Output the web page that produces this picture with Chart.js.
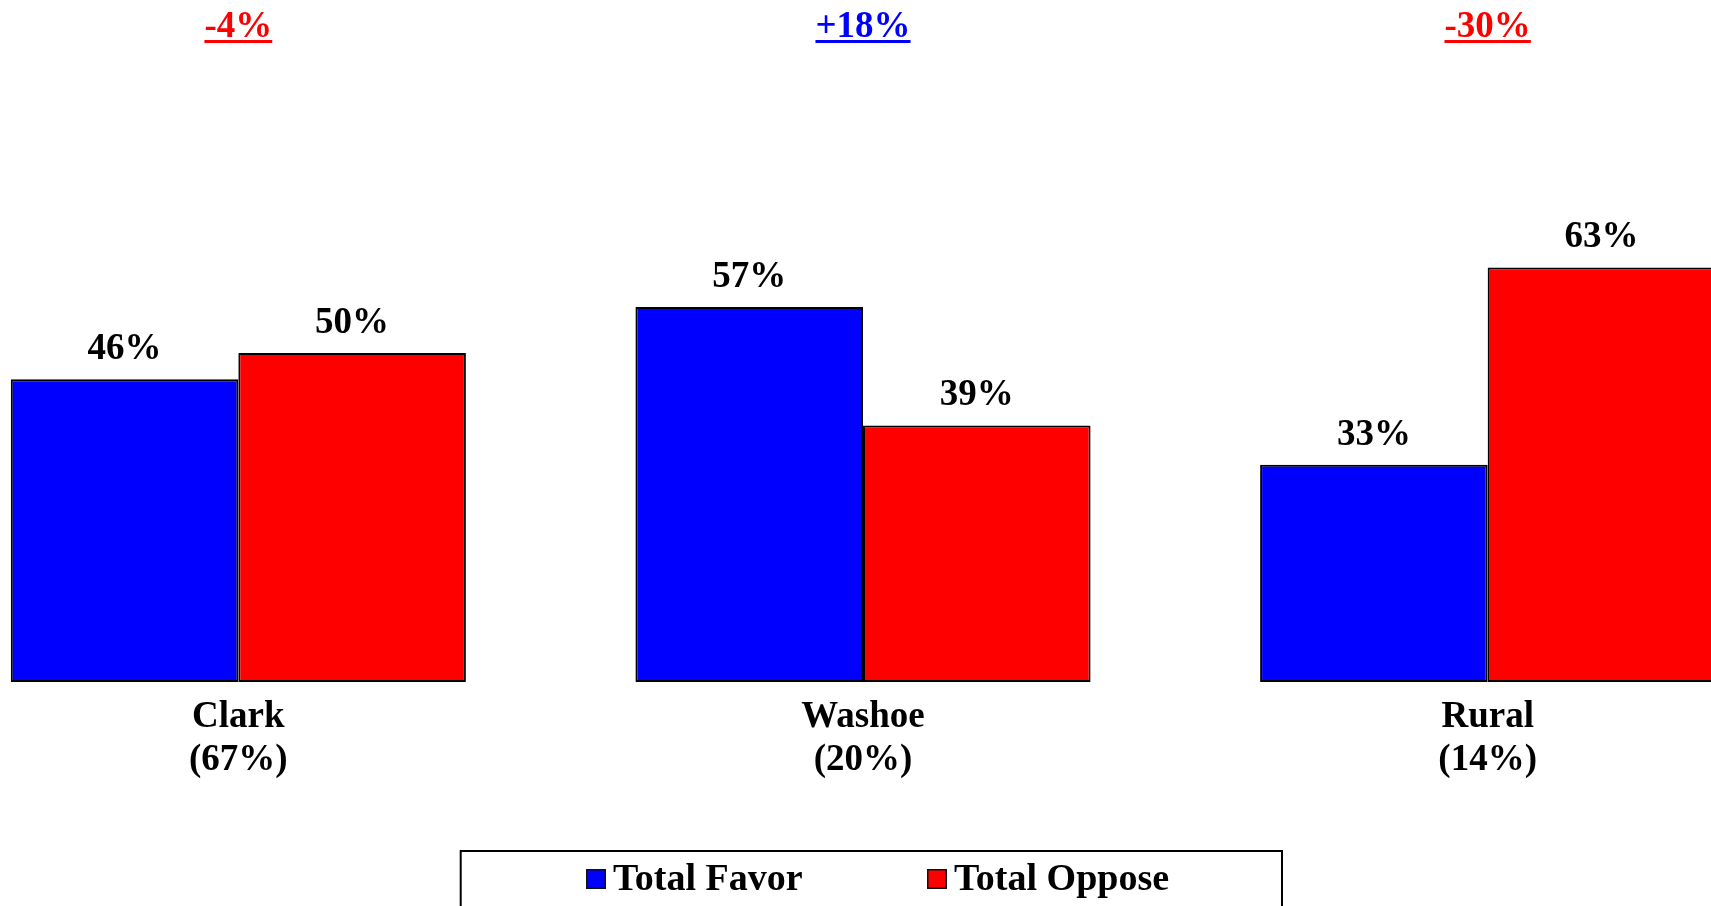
<!DOCTYPE html>
<html><head><meta charset="utf-8">
<script src="https://cdn.jsdelivr.net/npm/chart.js@4.4.0/dist/chart.umd.min.js"></script>
<style>
html,body{margin:0;padding:0;width:1711px;height:906px;overflow:hidden;background:#fff;}
#wrap{position:absolute;left:-74px;top:0;width:1874px;height:906px;}
canvas{display:block;}
</style></head><body>
<div id="wrap"><canvas id="c" width="1874" height="906"></canvas></div>
<script>
// ---- data ----
const categories = ['Clark', 'Washoe', 'Rural'];
const categoryShares = ['(67%)', '(20%)', '(14%)'];
const favorValues = [46, 57, 33];
const opposeValues = [50, 39, 63];
const seriesNames = ['Total Favor', 'Total Oppose'];
const seriesColors = ['#0000FF', '#FF0000'];

// ---- layout / style ----
const OFFSET_X = 74;              // canvas is shifted left by this many px
const FONT = 'bold 37px "Liberation Serif", "Times New Roman", serif';
const LEGEND_FONT = 'bold 38px "Liberation Serif", "Times New Roman", serif';

const labelPlugin = {
  id: 'labels',
  afterDatasetsDraw(chart) {
    const ctx = chart.ctx;
    const xs = chart.scales.x;
    ctx.save();
    ctx.font = FONT;
    ctx.textAlign = 'center';
    ctx.textBaseline = 'alphabetic';
    ctx.fillStyle = '#000';
    // value labels
    chart.data.datasets.forEach((ds, di) => {
      const meta = chart.getDatasetMeta(di);
      meta.data.forEach((bar, i) => {
        ctx.fillText(ds.data[i] + '%', bar.x, bar.y - 20);
      });
    });
    // category labels + difference labels
    categories.forEach((c, i) => {
      const x = xs.getPixelForValue(i);
      ctx.fillStyle = '#000';
      ctx.fillText(c, x, 727);
      ctx.fillText(categoryShares[i], x, 770);
      const d = favorValues[i] - opposeValues[i];
      const txt = (d > 0 ? '+' : '') + d + '%';
      const col = d > 0 ? seriesColors[0] : seriesColors[1];
      ctx.fillStyle = col;
      ctx.fillText(txt, x, 37);
      const w = ctx.measureText(txt).width;
      ctx.fillRect(x - w / 2, 40, w, 3);
    });
    // legend box
    const lx = 460.7 + OFFSET_X, rx = 1282 + OFFSET_X;
    ctx.strokeStyle = '#000';
    ctx.lineWidth = 2;
    ctx.strokeRect(lx, 851, rx - lx, 80);
    ctx.font = LEGEND_FONT;
    ctx.textAlign = 'left';
    const itemX = [586 + OFFSET_X, 927 + OFFSET_X];
    chart.data.datasets.forEach((ds, di) => {
      const x = itemX[di];
      ctx.fillStyle = ds.backgroundColor;
      ctx.fillRect(x, 869, 20, 20);
      ctx.lineWidth = 1.5;
      ctx.strokeStyle = '#111';
      ctx.strokeRect(x + 0.75, 869.75, 18.5, 18.5);
      ctx.fillStyle = '#000';
      ctx.fillText(ds.label, x + 27, 890);
    });
    ctx.restore();
  }
};

new Chart(document.getElementById('c'), {
  type: 'bar',
  data: {
    labels: categories,
    datasets: [
      { label: seriesNames[0], data: favorValues, backgroundColor: seriesColors[0],
        borderColor: '#000', borderWidth: 2, borderSkipped: false },
      { label: seriesNames[1], data: opposeValues, backgroundColor: seriesColors[1],
        borderColor: '#000', borderWidth: 2, borderSkipped: false }
    ]
  },
  options: {
    responsive: false,
    animation: false,
    layout: { padding: { top: 24, bottom: 224, left: 0, right: 0 } },
    scales: {
      x: { display: false },
      y: { display: false, min: 0, max: 100 }
    },
    datasets: { bar: { categoryPercentage: 0.7286, barPercentage: 1.0 } },
    plugins: { legend: { display: false }, tooltip: { enabled: false } }
  },
  plugins: [labelPlugin]
});
</script>
</body></html>
